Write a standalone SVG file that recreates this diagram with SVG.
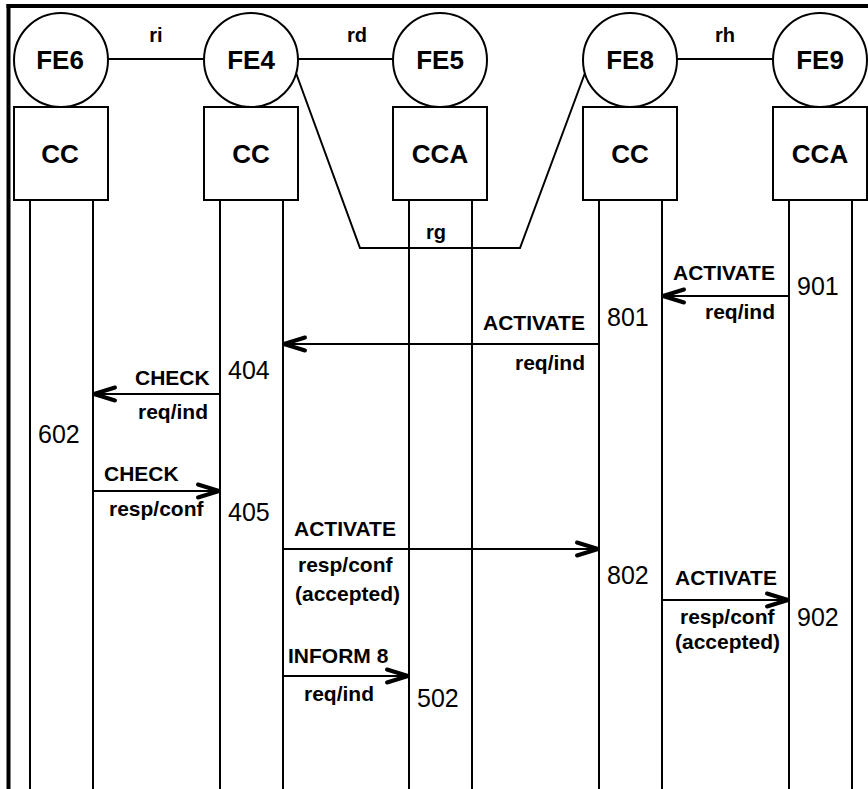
<svg xmlns="http://www.w3.org/2000/svg" width="868" height="789" viewBox="0 0 868 789">
<style>
.ln{stroke:#000;stroke-width:2;fill:none}
.shape{fill:#fff;stroke:#000;stroke-width:2}
.b{font-family:"Liberation Sans",Arial,sans-serif;font-weight:bold;font-size:21px;fill:#000}
.r{font-family:"Liberation Sans",Arial,sans-serif;font-weight:bold;font-size:20px;fill:#000}
.big{font-family:"Liberation Sans",Arial,sans-serif;font-weight:bold;font-size:26px;fill:#000}
.num{font-family:"Liberation Sans",Arial,sans-serif;font-size:25px;fill:#000}
.msg{stroke:#000;stroke-width:2;fill:none;marker-end:url(#arr)}
</style>
<defs>
<marker id="arr" markerUnits="userSpaceOnUse" markerWidth="30" markerHeight="20" viewBox="-26 -10 30 20" refX="0" refY="0" orient="auto" overflow="visible">
<path d="M-22,-6.5 L-1,0 L-22,6.5" fill="none" stroke="#000" stroke-width="4" stroke-linecap="round" stroke-linejoin="round"/>
</marker>
</defs>
<rect width="868" height="789" fill="#fff"/>
<g id="frame">
<line x1="8.5" y1="4" x2="8.5" y2="789" stroke="#000" stroke-width="4"/>
<line x1="6.5" y1="6" x2="868" y2="6" stroke="#000" stroke-width="4"/>
</g>
<g id="FE6">
<line class="ln" x1="30" y1="200" x2="30" y2="789"/>
<line class="ln" x1="93" y1="200" x2="93" y2="789"/>
<circle class="shape" cx="61" cy="60" r="47"/>
<rect class="shape" x="14" y="107" width="94" height="93"/>
<text class="big" x="60" y="69" text-anchor="middle">FE6</text>
<text class="big" x="60" y="163" text-anchor="middle">CC</text>
</g>
<g id="FE4">
<line class="ln" x1="220" y1="200" x2="220" y2="789"/>
<line class="ln" x1="283" y1="200" x2="283" y2="789"/>
<circle class="shape" cx="251" cy="60" r="47"/>
<rect class="shape" x="204" y="107" width="94" height="93"/>
<text class="big" x="251" y="69" text-anchor="middle">FE4</text>
<text class="big" x="251" y="163" text-anchor="middle">CC</text>
</g>
<g id="FE5">
<line class="ln" x1="409" y1="200" x2="409" y2="789"/>
<line class="ln" x1="472" y1="200" x2="472" y2="789"/>
<circle class="shape" cx="440" cy="60" r="47"/>
<rect class="shape" x="393" y="107" width="94" height="93"/>
<text class="big" x="440" y="69" text-anchor="middle">FE5</text>
<text class="big" x="440" y="163" text-anchor="middle">CCA</text>
</g>
<g id="FE8">
<line class="ln" x1="599" y1="200" x2="599" y2="789"/>
<line class="ln" x1="662" y1="200" x2="662" y2="789"/>
<circle class="shape" cx="630" cy="60" r="47"/>
<rect class="shape" x="583" y="107" width="94" height="93"/>
<text class="big" x="630" y="69" text-anchor="middle">FE8</text>
<text class="big" x="630" y="163" text-anchor="middle">CC</text>
</g>
<g id="FE9">
<line class="ln" x1="789" y1="200" x2="789" y2="789"/>
<line class="ln" x1="852" y1="200" x2="852" y2="789"/>
<circle class="shape" cx="820" cy="60" r="47"/>
<rect class="shape" x="773" y="107" width="94" height="93"/>
<text class="big" x="820" y="69" text-anchor="middle">FE9</text>
<text class="big" x="820" y="163" text-anchor="middle">CCA</text>
</g>
<g id="connectors">
<line class="ln" x1="108" y1="59" x2="204" y2="59"/>
<text class="r" x="156" y="42" text-anchor="middle">ri</text>
<line class="ln" x1="298" y1="59" x2="393" y2="59"/>
<text class="r" x="357" y="42" text-anchor="middle">rd</text>
<line class="ln" x1="677" y1="59" x2="773" y2="59"/>
<text class="r" x="725" y="42" text-anchor="middle">rh</text>
<polyline class="ln" points="296,73 360,248 520,248 585,73"/>
<text class="r" x="436" y="239" text-anchor="middle">rg</text>

<line class="msg" x1="789" y1="296" x2="662" y2="296"/>
<text class="b" x="673" y="280">ACTIVATE</text>
<text class="b" x="705" y="319">req/ind</text>
<text class="num" x="797" y="295">901</text>

<line class="msg" x1="599" y1="344" x2="283" y2="344"/>
<text class="b" x="483" y="330">ACTIVATE</text>
<text class="b" x="515" y="370">req/ind</text>
<text class="num" x="607" y="326">801</text>

<line class="msg" x1="220" y1="394" x2="93" y2="394"/>
<text class="b" x="135" y="385">CHECK</text>
<text class="b" x="138" y="419">req/ind</text>
<text class="num" x="228" y="379">404</text>
<text class="num" x="38" y="443">602</text>

<line class="msg" x1="93" y1="491" x2="220" y2="491"/>
<text class="b" x="104" y="481">CHECK</text>
<text class="b" x="109" y="516">resp/conf</text>
<text class="num" x="228" y="521">405</text>

<line class="msg" x1="283" y1="549" x2="599" y2="549"/>
<text class="b" x="294" y="536">ACTIVATE</text>
<text class="b" x="298" y="572">resp/conf</text>
<text class="b" x="295" y="601">(accepted)</text>
<text class="num" x="607" y="584">802</text>

<line class="msg" x1="662" y1="600" x2="789" y2="600"/>
<text class="b" x="675" y="585">ACTIVATE</text>
<text class="b" x="680" y="624">resp/conf</text>
<text class="b" x="675" y="649">(accepted)</text>
<text class="num" x="797" y="626">902</text>

<line class="msg" x1="283" y1="676" x2="409" y2="676"/>
<text class="b" x="288" y="663">INFORM 8</text>
<text class="b" x="304" y="701">req/ind</text>
<text class="num" x="417" y="707">502</text>
</g>
</svg>
